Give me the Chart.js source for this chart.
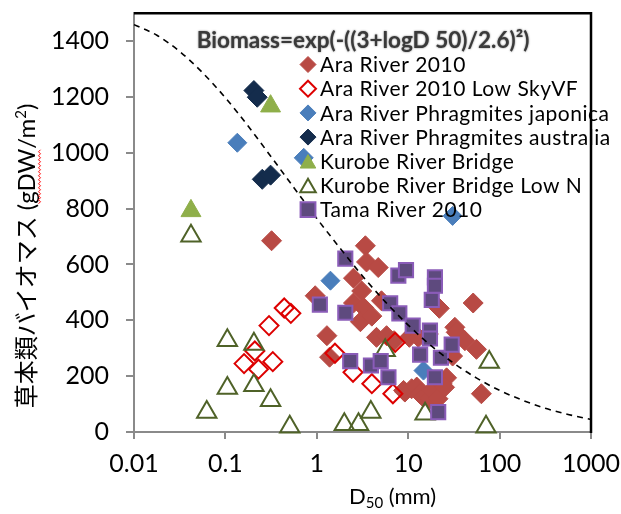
<!DOCTYPE html>
<html><head><meta charset="utf-8">
<script src="https://cdn.jsdelivr.net/npm/chart.js@4/dist/chart.umd.min.js"></script>
<style>html,body{margin:0;padding:0;background:#fff;overflow:hidden}#wrap{width:621px;height:514px}</style>
</head><body><div id="wrap"><canvas id="c" width="621" height="514"></canvas></div>
<script>
// ---- data (D50 in mm, biomass in gDW/m2) ----
const xTicks = [0.01, 0.1, 1, 10, 100, 1000];
const yTicks = [0, 200, 400, 600, 800, 1000, 1200, 1400];

const seriesNames = ['Ara River 2010','Ara River 2010 Low SkyVF','Ara River Phragmites japonica',
  'Ara River Phragmites australia','Kurobe River Bridge','Kurobe River Bridge Low N','Tama River 2010'];

const araD = [0.32,0.96,1.29,1.38,2.52,2.52,3.1,3.25,3.0,3.4,3.5,4.0,4.7,5.1,4.5,5.8,7.0,8.9,9.2,10.3,10.9,12.4,13.4,12.9,14.6,16.6,17.3,18.1,21.2,21.9,23.4,26.3,25,30.6,32.4,33.5,41.7,51.4,55.8,63.2];
const araB = [685,488,345,268,551,462,505,446,395,667,609,415,589,470,339,345,327,149,143,339,155,161,137,339,125,351,119,149,119,443,173,194,160,272,375,357,327,462,296,137];

const skyD = [0.16,0.21,0.23,0.33,0.30,0.44,0.52,1.58,2.49,4.0,6.8,7.2];
const skyB = [245,290,225,252,381,444,425,282,214,173,137,321];

const japD = [0.135,0.72,1.41,14.7,30.6];
const japB = [1036,982,542,220,774];

const ausD = [0.205,0.223,0.253,0.312];
const ausB = [1223,1199,905,920];

const kurD = [0.042,0.312];
const kurB = [792,1167];

const kurND = [0.042,0.0625,0.105,0.105,0.205,0.205,0.312,0.506,2.0,2.86,3.9,5.6,15.3,71,77];
const kurNB = [702,71,328,157,315,167,113,18,27,27,71,292,65,18,250];

const tamaD = [1.08,2.05,2.05,2.32,3.91,5.0,6.08,6.35,7.8,8.0,9.46,11.2,13.5,17.3,17.3,18.1,19.6,19.6,19.6,21.3,22.8,29.9];
const tamaB = [456,621,427,254,238,254,196,461,560,425,580,381,277,363,335,473,554,524,196,71,266,313];

// dashed curve, read along its path
const curveD = [0.01,0.0178,0.0316,0.0562,0.1,0.178,0.316,0.562,1,1.78,3.16,5.62,10,17.8,31.6,56.2,100,178,316,562,1000];
const curveB = [1459,1421,1363,1287,1197,1095,986,875,765,660,559,466,383,309,246,193,149,114,85,63,45];

const pts = (d, b) => d.map((v, i) => ({x: v, y: b[i]}));

const styles = [
  {shape:'rectRot', r:10, fill:'#B84A44', stroke:'#B84A44', bw:1},
  {shape:'rectRot', r:9.5, fill:'rgba(0,0,0,0)', stroke:'#DD0000', bw:2},
  {shape:'rectRot', r:9.5, fill:'#4A7EBB', stroke:'#4A7EBB', bw:1},
  {shape:'rectRot', r:10, fill:'#142C4C', stroke:'#142C4C', bw:1},
  {shape:'triangle', r:11.5, fill:'#8FAF4A', stroke:'#8FAF4A', bw:1},
  {shape:'triangle', r:11.2, fill:'rgba(0,0,0,0)', stroke:'#4F6228', bw:2},
  {shape:'rect', r:10, fill:'#5E4A7E', stroke:'#8A5CB8', bw:2}
];
const seriesData = [pts(araD,araB), pts(skyD,skyB), pts(japD,japB), pts(ausD,ausB), pts(kurD,kurB), pts(kurND,kurNB), pts(tamaD,tamaB)];

const datasets = seriesData.map((d, i) => ({
  label: seriesNames[i], data: d, showLine: false, clip: false,
  pointStyle: styles[i].shape, pointRadius: styles[i].r, pointHoverRadius: styles[i].r,
  pointBackgroundColor: styles[i].fill, pointBorderColor: styles[i].stroke, pointBorderWidth: styles[i].bw,
  order: 7 - i
}));
datasets.push({
  label: 'curve', data: pts(curveD, curveB), showLine: true, pointRadius: 0, borderColor: '#000',
  borderWidth: 1.6, borderDash: [6, 5], cubicInterpolationMode: 'monotone', fill: false, order: 0, clip: false
});

const FONT = 'Lato, "Open Sans", sans-serif';

function marker(ctx, s, x, y, r) {
  ctx.beginPath();
  if (s.shape === 'rectRot') {
    ctx.moveTo(x, y - r); ctx.lineTo(x + r, y); ctx.lineTo(x, y + r); ctx.lineTo(x - r, y);
  } else if (s.shape === 'triangle') {
    const cy = y + r / 4;
    ctx.moveTo(x, cy - r);
    ctx.lineTo(x + r * Math.sin(2 * Math.PI / 3), cy + r / 2);
    ctx.lineTo(x - r * Math.sin(2 * Math.PI / 3), cy + r / 2);
  } else {
    const h = r * Math.SQRT1_2;
    ctx.rect(x - h, y - h, 2 * h, 2 * h);
  }
  ctx.closePath();
  ctx.fillStyle = s.fill; ctx.fill();
  ctx.lineWidth = s.bw; ctx.strokeStyle = s.stroke; ctx.stroke();
}

const deco = {
  id: 'deco',
  afterDraw(chart) {
    const ctx = chart.ctx, a = chart.chartArea;
    ctx.save();
    // black frame top & right
    ctx.strokeStyle = '#000'; ctx.lineWidth = 2.5;
    ctx.beginPath(); ctx.moveTo(a.left, a.top); ctx.lineTo(a.right, a.top); ctx.lineTo(a.right, a.bottom + 1); ctx.stroke();

    // legend title
    const title = 'Biomass=exp(-((3+logD 50)/2.6)²)';
    ctx.font = 'bold 18px ' + FONT;
    const tw = ctx.measureText(title).width;
    const fs = 18 * 333 / tw;
    ctx.font = 'bold ' + fs.toFixed(2) + 'px ' + FONT;
    ctx.fillStyle = '#3a3a3a'; ctx.textAlign = 'center'; ctx.textBaseline = 'middle';
    ctx.shadowColor = 'rgba(0,0,0,0.55)'; ctx.shadowBlur = 2;
    ctx.fillText(title, 363, 41);
    ctx.shadowBlur = 0; ctx.shadowColor = 'transparent';

    // legend entries
    const legR = [8, 8, 8, 8, 9, 9, 10.5];
    ctx.font = '21px ' + FONT; ctx.textAlign = 'left'; ctx.textBaseline = 'middle';
    if ('letterSpacing' in ctx) ctx.letterSpacing = '0.5px';
    seriesNames.forEach((n, i) => {
      const y = 64.5 + i * 24.2;
      marker(ctx, styles[i], 308, y, legR[i]);
      ctx.fillStyle = '#000';
      ctx.fillText(n, 320, y + 1);
    });
    if ('letterSpacing' in ctx) ctx.letterSpacing = '0px';

    // x title with subscript
    ctx.fillStyle = '#000'; ctx.textBaseline = 'alphabetic'; ctx.textAlign = 'left';
    let x = 349; const base = 504;
    ctx.font = '22px ' + FONT; ctx.fillText('D', x, base); x += ctx.measureText('D').width;
    ctx.font = '15px ' + FONT; ctx.fillText('50', x, base + 4); x += ctx.measureText('50').width;
    ctx.font = '22px ' + FONT; ctx.fillText(' (mm)', x, base);

    // y title (rotated) with superscript and wavy underline under gDW
    ctx.save();
    ctx.translate(35, 256); ctx.rotate(-Math.PI / 2);
    const big = '24px ' + FONT + ', "Noto Sans CJK JP"';
    const small = '15px ' + FONT;
    const p1 = '草本類バイオマス (', p2 = 'gDW', p3 = '/m', p4 = '2', p5 = ')';
    ctx.font = big;
    const w1 = ctx.measureText(p1).width, w2 = ctx.measureText(p2).width, w3 = ctx.measureText(p3).width, w5 = ctx.measureText(p5).width;
    ctx.font = small; const w4 = ctx.measureText(p4).width;
    const total = w1 + w2 + w3 + w4 + w5;
    let tx = -total / 2;
    ctx.fillStyle = '#000'; ctx.textAlign = 'left'; ctx.textBaseline = 'alphabetic';
    ctx.font = big; ctx.fillText(p1, tx, 0); tx += w1;
    const gStart = tx;
    ctx.fillText(p2, tx, 0); tx += w2;
    const gEnd = tx;
    ctx.fillText(p3, tx, 0); tx += w3;
    ctx.font = small; ctx.fillText(p4, tx, -9); tx += w4;
    ctx.font = big; ctx.fillText(p5, tx, 0);
    // wavy red underline
    ctx.strokeStyle = '#FF0000'; ctx.lineWidth = 1;
    ctx.beginPath();
    let k = 0;
    for (let u = gStart; u <= gEnd; u += 2) { ctx.lineTo(u, 4 + (k % 2 ? 1.5 : -0.5)); k++; }
    ctx.stroke();
    ctx.restore();

    ctx.restore();
  }
};

new Chart(document.getElementById('c'), {
  type: 'scatter',
  data: { datasets },
  options: {
    responsive: false, animation: false, devicePixelRatio: 1,
    layout: { padding: { top: 12, right: 30, left: 0, bottom: 0 } },
    plugins: { legend: { display: false }, tooltip: { enabled: false } },
    scales: {
      x: {
        type: 'logarithmic', min: 0.01, max: 1000,
        afterBuildTicks: s => { s.ticks = xTicks.map(v => ({ value: v })); },
        afterFit: s => { s.height = 82; s.paddingLeft = 0; s.paddingRight = 0; },
        ticks: { callback: v => String(v), font: { family: FONT, size: 25 }, color: '#000', padding: 10, autoSkip: false, maxRotation: 0 },
        grid: { drawOnChartArea: false, drawTicks: true, tickLength: 7, color: '#8a8a8a', lineWidth: 2 },
        border: { display: true, color: '#8a8a8a', width: 2 }
      },
      y: {
        type: 'linear', min: 0, max: 1500,
        afterBuildTicks: s => { s.ticks = yTicks.map(v => ({ value: v })); },
        afterFit: s => { s.width = 134; s.paddingTop = 0; s.paddingBottom = 0; },
        ticks: { callback: v => String(v), font: { family: FONT, size: 25 }, color: '#000', padding: 17 },
        grid: { drawOnChartArea: false, drawTicks: true, tickLength: 8, color: '#8a8a8a', lineWidth: 2 },
        border: { display: true, color: '#8a8a8a', width: 2 }
      }
    }
  },
  plugins: [deco]
});
</script></body></html>
